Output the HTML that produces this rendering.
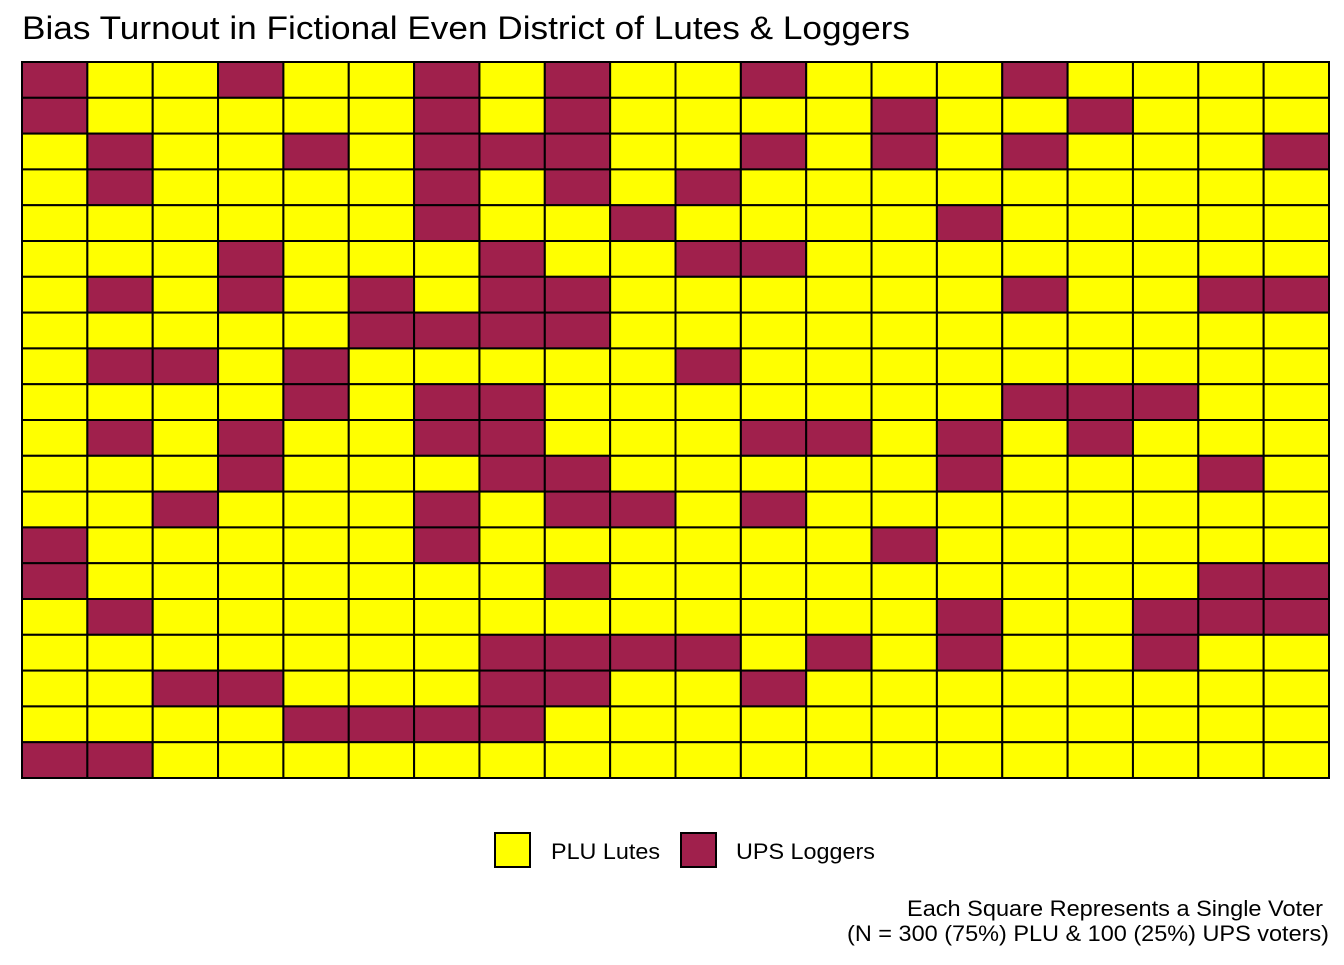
<!DOCTYPE html>
<html><head><meta charset="utf-8"><style>
body{margin:0;background:#fff;font-family:"Liberation Sans",Arial,sans-serif}
svg text{font-family:"Liberation Sans",Arial,sans-serif}
</style></head><body>
<svg id="chart" width="1344" height="960">
<text x="22" y="39" font-size="32" textLength="888" lengthAdjust="spacingAndGlyphs" fill="#000">Bias Turnout in Fictional Even District of Lutes &amp; Loggers</text>
<g id="cells"></g>
<g>
<rect x="495" y="833" width="35" height="34" fill="#FFFF00" stroke="#000" stroke-width="2"/>
<text x="551" y="859" font-size="22" textLength="109" lengthAdjust="spacingAndGlyphs">PLU Lutes</text>
<rect x="681" y="833" width="35" height="34" fill="#A0204C" stroke="#000" stroke-width="2"/>
<text x="736" y="859" font-size="22" textLength="139" lengthAdjust="spacingAndGlyphs">UPS Loggers</text>
</g>
<text x="907" y="916" font-size="22" textLength="416" lengthAdjust="spacingAndGlyphs">Each Square Represents a Single Voter</text>
<text x="847" y="941" font-size="22" textLength="482" lengthAdjust="spacingAndGlyphs">(N = 300 (75%) PLU &amp; 100 (25%) UPS voters)</text>
</svg>
<script>
// column indices of UPS voters per row
const upsRows = [
 [0,3,6,8,11,15],
 [0,6,8,13,16],
 [1,4,6,7,8,11,13,15,19],
 [1,6,8,10],
 [6,9,14],
 [3,7,10,11],
 [1,3,5,7,8,15,18,19],
 [5,6,7,8],
 [1,2,4,10],
 [4,6,7,15,16,17],
 [1,3,6,7,11,12,14,16],
 [3,7,8,14,18],
 [2,6,8,9,11],
 [0,6,13],
 [0,8,18,19],
 [1,14,17,18,19],
 [7,8,9,10,12,14,17],
 [2,3,7,8,11],
 [4,5,6,7],
 [0,1]
];
const nCols = 20, nRows = 20;
const x0 = 22, x1 = 1329, y0 = 62, y1 = 778;
const cw = (x1 - x0) / nCols, ch = (y1 - y0) / nRows;
const g = document.getElementById('cells');
const NS = 'http://www.w3.org/2000/svg';
for (let r = 0; r < nRows; r++) {
  for (let c = 0; c < nCols; c++) {
    const ups = (upsRows[r] || []).includes(c);
    const rect = document.createElementNS(NS, 'rect');
    rect.setAttribute('x', x0 + c * cw);
    rect.setAttribute('y', y0 + r * ch);
    rect.setAttribute('width', cw);
    rect.setAttribute('height', ch);
    rect.setAttribute('fill', ups ? '#A0204C' : '#FFFF00');
    rect.setAttribute('stroke', '#000');
    rect.setAttribute('stroke-width', '2');
    
    
    g.appendChild(rect);
  }
}
</script>
</body></html>
